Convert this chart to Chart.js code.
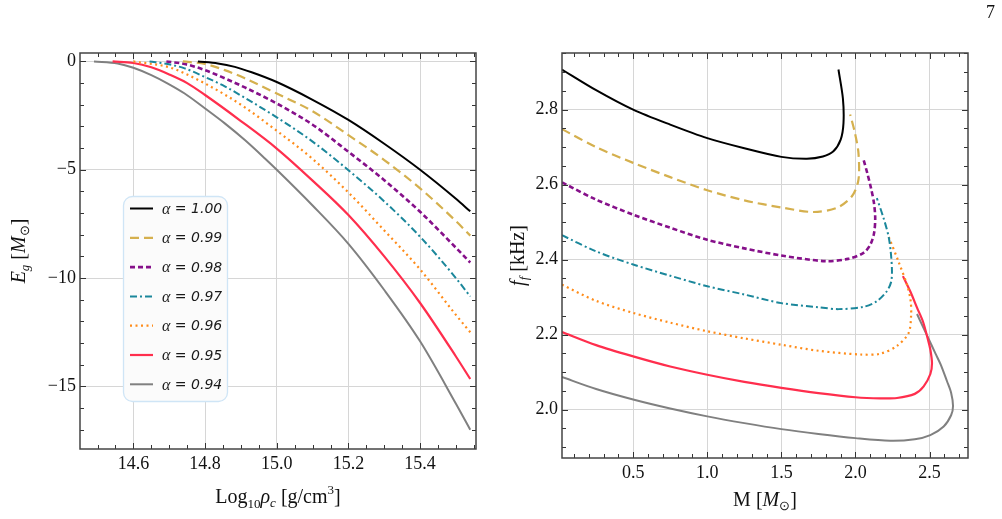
<!DOCTYPE html>
<html>
<head>
<meta charset="utf-8">
<script src="https://cdn.jsdelivr.net/npm/chart.js@4.4.1/dist/chart.umd.min.js"></script>
<style>
  body { margin: 0; background: #fff; width: 1002px; height: 519px; overflow: hidden; position: relative; }
  canvas { position: absolute; top: 0; }
  #left { left: 0; }
  #right { left: 500px; }
  #page { position: absolute; left: 986px; top: 2px; font: 18px "Liberation Serif", serif; color: #111; }
</style>
</head>
<body>
<canvas id="left" width="500" height="519"></canvas>
<canvas id="right" width="502" height="519"></canvas>
<div id="page">7</div>
<script>
// series labels (alpha)
const alphaLabels = ["1.00", "0.99", "0.98", "0.97", "0.96", "0.95", "0.94"];

// tick labels
const leftXTicks = [14.6, 14.8, 15.0, 15.2, 15.4];
const leftYTicks = [0, -5, -10, -15];
const rightXTicks = [0.5, 1.0, 1.5, 2.0, 2.5];
const rightYTicks = [2.0, 2.2, 2.4, 2.6, 2.8];

// left panel: Log10 rho_c vs E_g
const rho100 = [14.78, 14.836, 14.883, 14.93, 15.0, 15.1, 15.2, 15.3, 15.4, 15.5, 15.54];
const eg100  = [0, -0.09, -0.25, -0.5, -0.95, -1.77, -2.7, -3.8, -5.0, -6.34, -6.92];
const rho099 = [14.738, 14.8, 14.855, 14.911, 15.0, 15.1, 15.2, 15.3, 15.4, 15.5, 15.54];
const eg099  = [0, -0.12, -0.4, -0.78, -1.48, -2.3, -3.4, -4.55, -5.86, -7.37, -8.04];
const rho098 = [14.692, 14.743, 14.8, 14.855, 14.911, 15.0, 15.1, 15.2, 15.3, 15.4, 15.5, 15.54];
const eg098  = [0, -0.12, -0.4, -0.78, -1.2, -1.94, -2.92, -4.17, -5.48, -6.94, -8.6, -9.28];
const rho097 = [14.645, 14.696, 14.743, 14.8, 14.855, 14.911, 15.0, 15.1, 15.2, 15.3, 15.4, 15.5, 15.54];
const eg097  = [0, -0.12, -0.32, -0.72, -1.15, -1.68, -2.58, -3.7, -5.02, -6.46, -8.09, -10.0, -10.85];
const rho096 = [14.6, 14.696, 14.743, 14.8, 14.855, 14.911, 15.0, 15.1, 15.2, 15.3, 15.4, 15.5, 15.54];
const eg096  = [0, -0.25, -0.55, -1.02, -1.53, -2.12, -3.2, -4.5, -6.05, -7.8, -9.6, -11.7, -12.5];
const rho095 = [14.542, 14.6, 14.65, 14.7, 14.75, 14.8, 14.9, 15.0, 15.1, 15.2, 15.3, 15.4, 15.5, 15.54];
const eg095  = [0, -0.07, -0.27, -0.6, -1.0, -1.55, -2.75, -4.02, -5.5, -7.09, -9.0, -11.15, -13.62, -14.66];
const rho094 = [14.49, 14.556, 14.6, 14.65, 14.696, 14.743, 14.8, 14.855, 14.911, 14.967, 15.0, 15.1, 15.2, 15.3, 15.4, 15.5, 15.54];
const eg094  = [0, -0.09, -0.29, -0.63, -1.02, -1.48, -2.17, -2.86, -3.63, -4.48, -5.0, -6.65, -8.42, -10.55, -12.92, -15.8, -17.0];

// right panel: M vs f_f
const m100 = [0.02, 0.25, 0.5, 0.75, 1.0, 1.25, 1.5, 1.672, 1.78, 1.851, 1.9, 1.919, 1.915, 1.885];
const f100 = [2.907, 2.852, 2.80, 2.76, 2.724, 2.697, 2.674, 2.669, 2.675, 2.689, 2.72, 2.764, 2.83, 2.907];
const m099 = [0.02, 0.25, 0.5, 0.75, 1.0, 1.25, 1.5, 1.716, 1.874, 1.976, 2.02, 2.02, 1.995, 1.964];
const f099 = [2.748, 2.70, 2.658, 2.62, 2.585, 2.558, 2.539, 2.527, 2.538, 2.569, 2.613, 2.684, 2.74, 2.787];
const m098 = [0.02, 0.25, 0.5, 0.75, 1.0, 1.25, 1.5, 1.795, 1.95, 2.054, 2.10, 2.125, 2.133, 2.125, 2.105, 2.08, 2.054];
const f098 = [2.606, 2.56, 2.52, 2.485, 2.453, 2.43, 2.411, 2.396, 2.402, 2.418, 2.44, 2.47, 2.51, 2.55, 2.59, 2.63, 2.667];
const m097 = [0.02, 0.25, 0.5, 0.75, 1.0, 1.25, 1.5, 1.75, 1.885, 2.054, 2.144, 2.21, 2.24, 2.246, 2.238, 2.223, 2.19, 2.144];
const f097 = [2.465, 2.422, 2.387, 2.357, 2.329, 2.307, 2.284, 2.273, 2.268, 2.274, 2.289, 2.315, 2.34, 2.37, 2.42, 2.462, 2.51, 2.564];
const m096 = [0.02, 0.25, 0.5, 0.75, 1.0, 1.25, 1.5, 1.75, 2.032, 2.167, 2.28, 2.358, 2.375, 2.372, 2.35, 2.29, 2.225];
const f096 = [2.333, 2.29, 2.258, 2.232, 2.209, 2.19, 2.173, 2.157, 2.147, 2.149, 2.17, 2.204, 2.25, 2.29, 2.33, 2.395, 2.46];
const m095 = [0.02, 0.25, 0.5, 0.75, 1.0, 1.25, 1.5, 1.75, 2.0, 2.167, 2.28, 2.40, 2.46, 2.505, 2.516, 2.505, 2.49, 2.455, 2.415, 2.37, 2.32];
const f095 = [2.207, 2.172, 2.142, 2.115, 2.093, 2.074, 2.058, 2.044, 2.033, 2.03, 2.031, 2.042, 2.062, 2.095, 2.124, 2.16, 2.185, 2.235, 2.272, 2.315, 2.356];
const m094 = [0.02, 0.25, 0.5, 0.75, 1.0, 1.25, 1.5, 1.75, 2.0, 2.234, 2.40, 2.505, 2.595, 2.645, 2.658, 2.645, 2.618, 2.575, 2.539, 2.48, 2.415];
const f094 = [2.087, 2.055, 2.027, 2.003, 1.982, 1.964, 1.948, 1.935, 1.924, 1.917, 1.921, 1.932, 1.955, 1.985, 2.01, 2.045, 2.075, 2.12, 2.15, 2.20, 2.255];

// line styles per alpha
const colors = ["#000000", "#d5b04e", "#86108a", "#1b879b", "#ff8c1a", "#ff2e4d", "#808080"];
const dashes = [[], [9, 5], [5, 3], [7, 3, 2, 3], [2, 3.5], [], []];
const widths = [2, 2.2, 2.6, 2, 2.2, 2.2, 2];

const SERIF = '"Liberation Serif", serif';

const pts = (xs, ys) => xs.map((x, i) => ({ x: x, y: ys[i] }));

function makeSets(series, monotone) {
    return series.map((s, i) => ({
        label: "\u03b1 = " + alphaLabels[i],
        data: pts(s[0], s[1]),
        showLine: true,
        pointRadius: 0,
        borderColor: colors[i],
        backgroundColor: colors[i],
        borderWidth: widths[i],
        borderDash: dashes[i],
        borderCapStyle: "butt",
        cubicInterpolationMode: monotone ? "monotone" : "default",
        tension: 0.3,
        fill: false,
    }));
}

// draw mixed-font text centred on (x, baseline y)
function rich(ctx, parts, x, y, rot) {
    ctx.save();
    ctx.translate(x, y);
    if (rot) ctx.rotate(rot);
    let w = 0;
    parts.forEach(p => { ctx.font = p.f; w += ctx.measureText(p.t).width; });
    let cx = -w / 2;
    ctx.fillStyle = "#111";
    ctx.textBaseline = "alphabetic";
    parts.forEach(p => {
        ctx.font = p.f;
        ctx.fillText(p.t, cx, p.dy || 0);
        cx += ctx.measureText(p.t).width;
    });
    ctx.restore();
}

// frame + inward ticks on all four sides
function framePlugin(minorX, minorY, titles) {
    return {
        id: "frame",
        afterDraw(chart) {
            const { ctx, chartArea: a, scales: { x, y } } = chart;
            ctx.save();
            ctx.strokeStyle = "#333";
            ctx.lineWidth = 1;
            const drawX = (v, len) => {
                const p = Math.round(x.getPixelForValue(v)) + 0.5;
                ctx.beginPath();
                ctx.moveTo(p, a.bottom); ctx.lineTo(p, a.bottom - len);
                ctx.moveTo(p, a.top); ctx.lineTo(p, a.top + len);
                ctx.stroke();
            };
            const drawY = (v, len) => {
                const p = Math.round(y.getPixelForValue(v)) + 0.5;
                ctx.beginPath();
                ctx.moveTo(a.left, p); ctx.lineTo(a.left + len, p);
                ctx.moveTo(a.right, p); ctx.lineTo(a.right - len, p);
                ctx.stroke();
            };
            for (let k = Math.ceil(x.min / minorX); k * minorX <= x.max; k++) drawX(k * minorX, 4);
            for (let k = Math.ceil(y.min / minorY); k * minorY <= y.max; k++) drawY(k * minorY, 4);
            x.ticks.forEach(t => drawX(t.value, 6));
            y.ticks.forEach(t => drawY(t.value, 6));
            ctx.lineWidth = 1.5;
            ctx.strokeStyle = "#444";
            ctx.strokeRect(a.left, a.top, a.right - a.left, a.bottom - a.top);
            ctx.restore();
            titles(ctx, a);
        }
    };
}

const legendPlugin = {
    id: "boxLegend",
    afterDraw(chart) {
        const ctx = chart.ctx;
        const bx = 123.5, by = 196.5, bw = 104, bh = 205;
        ctx.save();
        ctx.beginPath();
        ctx.roundRect(bx, by, bw, bh, 9);
        ctx.fillStyle = "#fbfbfb";
        ctx.fill();
        ctx.strokeStyle = "#cfe5f6";
        ctx.lineWidth = 1.3;
        ctx.stroke();
        chart.data.datasets.forEach((ds, i) => {
            const yy = 208.5 + i * 29.3;
            ctx.beginPath();
            ctx.setLineDash(ds.borderDash);
            ctx.lineCap = ds.borderCapStyle;
            ctx.strokeStyle = ds.borderColor;
            ctx.lineWidth = ds.borderWidth;
            ctx.moveTo(130, yy); ctx.lineTo(153, yy);
            ctx.stroke();
            ctx.setLineDash([]);
            ctx.fillStyle = "#1a1a1a";
            ctx.textBaseline = "middle";
            ctx.font = "italic 16px " + SERIF;
            ctx.fillText("\u03b1", 162, yy + 1);
            const aw = ctx.measureText("\u03b1").width;
            ctx.font = "italic 14px \"DejaVu Sans\", sans-serif";
            ctx.fillText(" = " + alphaLabels[i], 162 + aw, yy + 1);
        });
        ctx.restore();
    }
};

function axisScales(xr, yr, xTicks, yTicks, fmtX, fmtY, yWidth, xHeight) {
    const common = {
        type: "linear",
        grid: { color: "#d6d6d6", lineWidth: 1, drawTicks: false },
        border: { display: false },
    };
    return {
        x: Object.assign({}, common, {
            position: "bottom", min: xr[0], max: xr[1],
            afterBuildTicks: s => { s.ticks = xTicks.map(v => ({ value: v })); },
            afterFit: s => { s.height = xHeight; },
            ticks: { color: "#111", padding: 4, maxRotation: 0, autoSkip: false, font: { family: SERIF, size: 18 }, callback: fmtX },
        }),
        y: Object.assign({}, common, {
            position: "left", min: yr[0], max: yr[1],
            afterBuildTicks: s => { s.ticks = yTicks.map(v => ({ value: v })); },
            afterFit: s => { s.width = yWidth; },
            ticks: { color: "#111", padding: 4, autoSkip: false, font: { family: SERIF, size: 18 }, callback: fmtY },
        }),
    };
}

const T = 20, S = 13;
const up = T + "px " + SERIF, it = "italic " + T + "px " + SERIF;
const sub = S + "px " + SERIF, subIt = "italic " + S + "px " + SERIF;

new Chart(document.getElementById("left"), {
    type: "scatter",
    data: {
        datasets: makeSets([
            [rho100, eg100], [rho099, eg099], [rho098, eg098], [rho097, eg097],
            [rho096, eg096], [rho095, eg095], [rho094, eg094],
        ], true),
    },
    options: {
        responsive: false,
        animation: false,
        devicePixelRatio: 1,
        layout: { padding: { top: 53, right: 24, left: 0, bottom: 0 } },
        plugins: { legend: { display: false }, tooltip: { enabled: false } },
        scales: axisScales([14.451, 15.556], [-17.89, 0.39], leftXTicks, leftYTicks,
            v => v.toFixed(1),
            v => (v === 0 ? "0" : "\u2212" + Math.abs(v)), 80, 70),
    },
    plugins: [framePlugin(0.05, 1, (ctx, a) => {
        rich(ctx, [
            { t: "Log", f: up }, { t: "10", f: sub, dy: 5 }, { t: "\u03c1", f: it }, { t: "c", f: subIt, dy: 4 },
            { t: " [g/cm", f: up }, { t: "3", f: sub, dy: -9 }, { t: "]", f: up },
        ], (a.left + a.right) / 2, 503);
        rich(ctx, [
            { t: "E", f: it }, { t: "g", f: subIt, dy: 4 }, { t: " [", f: up }, { t: "M", f: it },
            { t: "\u2299", f: sub, dy: 4 }, { t: "]", f: up },
        ], 25, (a.top + a.bottom) / 2, -Math.PI / 2);
    }), legendPlugin],
});

new Chart(document.getElementById("right"), {
    type: "scatter",
    data: {
        datasets: makeSets([
            [m100, f100], [m099, f099], [m098, f098], [m097, f097],
            [m096, f096], [m095, f095], [m094, f094],
        ], false),
    },
    options: {
        responsive: false,
        animation: false,
        devicePixelRatio: 1,
        layout: { padding: { top: 53, right: 34, left: 0, bottom: 0 } },
        plugins: { legend: { display: false }, tooltip: { enabled: false } },
        scales: axisScales([0.02, 2.759], [1.871, 2.951], rightXTicks, rightYTicks,
            v => v.toFixed(1), v => v.toFixed(1), 62, 61),
    },
    plugins: [framePlugin(0.1, 0.05, (ctx, a) => {
        rich(ctx, [
            { t: "M [", f: up }, { t: "M", f: it }, { t: "\u2299", f: sub, dy: 4 }, { t: "]", f: up },
        ], (a.left + a.right) / 2, 506);
        rich(ctx, [
            { t: "f", f: it }, { t: "f", f: subIt, dy: 4 }, { t: " [kHz]", f: up },
        ], 24, (a.top + a.bottom) / 2, -Math.PI / 2);
    })],
});
</script>
</body>
</html>
